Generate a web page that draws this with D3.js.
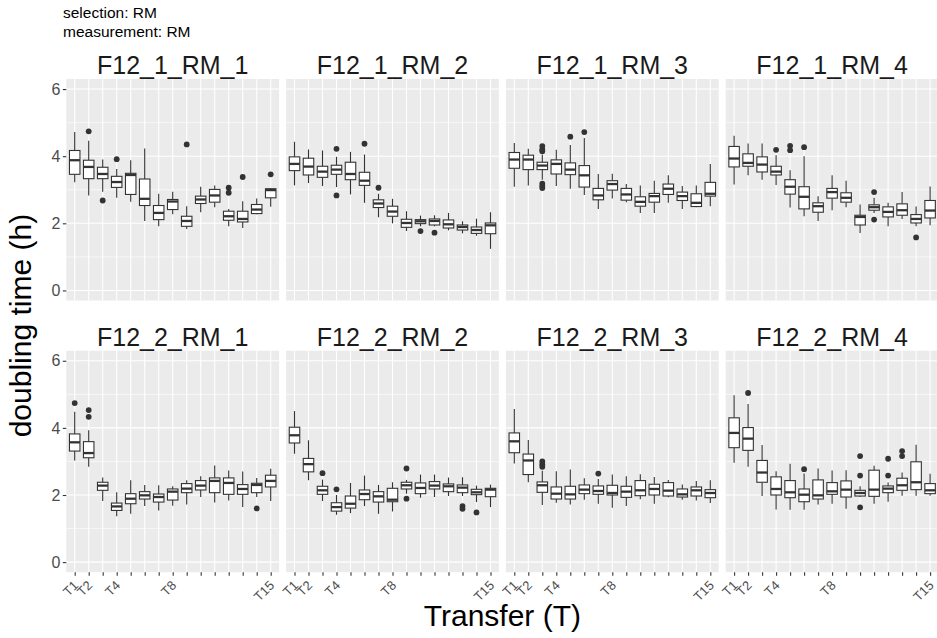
<!DOCTYPE html>
<html>
<head>
<meta charset="utf-8">
<script src="https://cdn.jsdelivr.net/npm/d3@7"></script>
<style>
  html, body { margin: 0; padding: 0; background: #ffffff; }
  svg { display: block; }
  text { font-family: "Liberation Sans", Arial, Helvetica, sans-serif; }
</style>
</head>
<body>
<svg id="chart" width="937" height="638"></svg>
<script>
// Transfers along the x axis and the labels shown under the ticks
const transfers = ["T1","T2","T3","T4","T5","T6","T7","T8","T9","T10","T11","T12","T13","T14","T15"];
const transferLabels = ["T1","T2","","T4","","","","T8","","","","","","","T15"];
const yTicks = [0, 2, 4, 6];
const panelNames = ["F12_1_RM_1","F12_1_RM_2","F12_1_RM_3","F12_1_RM_4",
                    "F12_2_RM_1","F12_2_RM_2","F12_2_RM_3","F12_2_RM_4"];

// Box statistics per transfer: [lower whisker, Q1, median, Q3, upper whisker]
const f12_1_rm_1 = [
  [3.22,3.46,3.88,4.17,4.72],[2.83,3.33,3.68,3.88,4.46],[2.94,3.33,3.47,3.67,3.90],
  [2.76,3.07,3.23,3.40,3.62],[2.64,2.86,3.44,3.49,3.88],[2.07,2.53,2.73,3.32,4.23],
  [1.91,2.11,2.31,2.53,2.88],[2.27,2.41,2.65,2.71,2.94],[1.83,1.91,2.07,2.21,2.51],
  [2.33,2.59,2.71,2.81,3.09],[2.48,2.63,2.83,3.01,3.13],[1.91,2.09,2.21,2.36,2.43],
  [1.86,2.04,2.13,2.36,2.66],[2.27,2.29,2.41,2.56,2.74],[2.49,2.76,2.99,3.03,3.05]
];
const f12_1_rm_2 = [
  [3.13,3.57,3.77,3.98,4.43],[3.20,3.44,3.69,3.94,4.20],[3.11,3.37,3.54,3.70,4.17],
  [3.08,3.46,3.60,3.73,3.98],[2.86,3.30,3.47,3.82,4.13],[2.61,3.13,3.27,3.52,4.05],
  [2.18,2.47,2.59,2.70,2.88],[2.00,2.21,2.35,2.51,2.73],[1.77,1.88,2.01,2.12,2.36],
  [1.91,1.99,2.06,2.11,2.23],[1.91,1.95,2.07,2.13,2.24],[1.79,1.86,1.97,2.10,2.31],
  [1.70,1.80,1.89,1.95,2.06],[1.63,1.70,1.80,1.89,2.14],[1.24,1.69,1.94,2.01,2.33]
];
const f12_1_rm_3 = [
  [3.09,3.64,3.90,4.11,4.39],[3.13,3.60,3.90,4.03,4.22],[3.30,3.60,3.72,3.82,4.05],
  [3.11,3.47,3.77,3.89,4.19],[3.03,3.45,3.60,3.80,4.33],[2.84,3.08,3.43,3.72,4.54],
  [2.43,2.70,2.83,3.04,3.47],[2.74,2.99,3.17,3.27,3.48],[2.63,2.69,2.86,3.04,3.17],
  [2.31,2.51,2.64,2.79,3.13],[2.31,2.63,2.81,2.89,3.27],[2.61,2.86,3.03,3.17,3.43],
  [2.43,2.68,2.81,2.93,3.11],[2.48,2.50,2.61,2.88,3.13],[2.51,2.81,2.88,3.22,3.77]
];
const f12_1_rm_4 = [
  [3.16,3.68,3.93,4.29,4.61],[3.43,3.70,3.80,4.07,4.38],[3.30,3.53,3.75,3.98,4.38],
  [3.14,3.44,3.54,3.70,4.03],[2.47,2.87,3.09,3.30,3.58],[2.21,2.43,2.79,3.09,4.00],
  [2.07,2.33,2.51,2.61,2.81],[2.39,2.75,2.93,3.04,3.43],[2.48,2.63,2.76,2.91,3.27],
  [1.71,1.95,2.19,2.24,2.56],[2.31,2.39,2.48,2.55,2.76],[1.91,2.19,2.34,2.49,2.61],
  [2.13,2.24,2.39,2.58,2.93],[1.91,2.01,2.13,2.26,2.50],[1.94,2.16,2.38,2.68,3.10]
];
const f12_2_rm_1 = [
  [3.03,3.31,3.57,3.82,4.48],[2.84,3.11,3.25,3.59,3.93],[1.82,2.14,2.28,2.38,2.52],
  [1.37,1.54,1.66,1.76,2.08],[1.44,1.74,1.89,2.04,2.44],[1.67,1.88,1.99,2.10,2.30],
  [1.54,1.79,1.94,2.03,2.29],[1.68,1.85,2.10,2.18,2.26],[1.72,2.07,2.19,2.34,2.44],
  [1.94,2.15,2.28,2.43,2.56],[1.78,2.07,2.42,2.51,2.88],[1.84,2.02,2.36,2.51,2.73],
  [1.64,2.02,2.18,2.31,2.70],[1.94,2.07,2.30,2.35,2.51],[1.82,2.24,2.42,2.59,2.78]
];
const f12_2_rm_2 = [
  [3.23,3.55,3.78,4.02,4.50],[2.44,2.69,2.92,3.09,3.63],[1.82,2.02,2.14,2.26,2.46],
  [1.41,1.52,1.64,1.77,2.00],[1.46,1.61,1.74,1.97,2.36],[1.67,1.86,2.03,2.15,2.58],
  [1.44,1.79,1.96,2.10,2.30],[1.51,1.80,1.86,2.20,2.38],[2.04,2.18,2.29,2.38,2.45],
  [1.92,2.04,2.21,2.36,2.61],[1.94,2.18,2.28,2.40,2.61],[1.97,2.10,2.26,2.33,2.52],
  [1.97,2.07,2.22,2.30,2.53],[1.79,2.01,2.08,2.17,2.28],[1.64,1.95,2.16,2.20,2.31]
];
const f12_2_rm_3 = [
  [2.94,3.26,3.60,3.85,4.56],[2.38,2.61,3.03,3.22,3.64],[1.70,2.08,2.29,2.39,2.72],
  [1.77,1.88,2.04,2.24,2.71],[1.72,1.88,2.02,2.26,2.76],[1.86,2.04,2.16,2.30,2.50],
  [1.74,2.02,2.12,2.27,2.48],[1.62,2.00,2.06,2.29,2.61],[1.67,1.93,2.10,2.26,2.56],
  [1.87,1.98,2.14,2.43,2.62],[1.74,2.00,2.18,2.32,2.54],[1.93,1.97,2.13,2.37,2.45],
  [1.86,1.94,2.02,2.18,2.31],[1.84,1.97,2.14,2.24,2.42],[1.76,1.92,2.06,2.16,2.44]
];
const f12_2_rm_4 = [
  [2.96,3.41,3.85,4.30,4.97],[2.84,3.33,3.68,4.01,4.71],[1.97,2.38,2.67,3.03,3.49],
  [1.57,2.00,2.18,2.54,2.71],[1.56,1.92,2.08,2.43,2.93],[1.56,1.80,2.01,2.18,2.64],
  [1.72,1.88,1.99,2.45,2.79],[1.74,2.02,2.11,2.37,2.73],[1.59,1.94,2.16,2.42,2.74],
  [1.94,1.97,2.06,2.14,2.26],[1.74,1.96,2.16,2.74,2.87],[1.80,2.07,2.19,2.27,2.37],
  [1.98,2.14,2.29,2.50,2.67],[1.98,2.16,2.38,2.99,3.50],[1.98,2.04,2.14,2.34,2.63]
];

// Outlying points per panel: [transfer index (0-based), value]
const out_1_1 = [[1,4.74],[2,2.68],[3,3.91],[8,4.35],[11,3.06],[11,2.91],[12,3.38],[14,3.46]];
const out_1_2 = [[3,4.22],[3,2.83],[5,4.37],[6,3.06],[9,1.77],[10,1.72]];
const out_1_3 = [[2,4.30],[2,4.20],[2,4.15],[2,3.18],[2,3.11],[2,3.05],[4,4.58],[5,4.72]];
const out_1_4 = [[3,4.19],[4,4.31],[4,4.18],[5,4.27],[10,2.93],[10,2.11],[13,1.58]];
const out_2_1 = [[0,4.74],[1,4.53],[1,4.33],[13,1.60]];
const out_2_2 = [[2,2.65],[3,2.17],[8,2.79],[8,1.89],[12,1.67],[12,1.59],[13,1.48]];
const out_2_3 = [[2,3.00],[2,2.91],[2,2.84],[6,2.64]];
const out_2_4 = [[1,5.04],[5,2.77],[9,3.16],[9,2.58],[9,1.63],[11,3.08],[11,2.58],[12,3.31],[12,3.16]];

const panelStats = [f12_1_rm_1, f12_1_rm_2, f12_1_rm_3, f12_1_rm_4,
                    f12_2_rm_1, f12_2_rm_2, f12_2_rm_3, f12_2_rm_4];
const panelOutliers = [out_1_1, out_1_2, out_1_3, out_1_4,
                       out_2_1, out_2_2, out_2_3, out_2_4];

// Layout of the 2 x 4 facet grid
const panelLeft = 66.3, panelW = 212.8, panelGapX = 7;
const panelTops = [79, 350.7], panelH = 221.5;
const ink = "#333333", tickText = "#4D4D4D";

const svg = d3.select("#chart");

const x = d3.scalePoint().domain(transfers).range([0, panelW]).padding(0.6);
const y = d3.scaleLinear().domain([-0.3, 6.3]).range([panelH, 0]);
const boxW = x.step() * 0.75;

// Caption lines at top-left
svg.append("text").attr("x", 63).attr("y", 18).attr("font-size", 15.5).attr("fill", "#000")
  .text("selection: RM");
svg.append("text").attr("x", 63).attr("y", 37).attr("font-size", 15.5).attr("fill", "#000")
  .text("measurement: RM");

panelNames.forEach((name, i) => {
  const row = Math.floor(i / 4), col = i % 4;
  const px = panelLeft + col * (panelW + panelGapX);
  const py = panelTops[row];
  const g = svg.append("g").attr("transform", `translate(${px},${py})`);

  // panel background and grid
  g.append("rect").attr("width", panelW).attr("height", panelH).attr("fill", "#EBEBEB");
  [1, 3, 5].forEach(v => {
    g.append("line").attr("x1", 0).attr("x2", panelW).attr("y1", y(v)).attr("y2", y(v))
      .attr("stroke", "#fff").attr("stroke-width", 0.6);
  });
  yTicks.forEach(v => {
    g.append("line").attr("x1", 0).attr("x2", panelW).attr("y1", y(v)).attr("y2", y(v))
      .attr("stroke", "#fff").attr("stroke-width", 1.1);
  });
  transfers.forEach(t => {
    g.append("line").attr("x1", x(t)).attr("x2", x(t)).attr("y1", 0).attr("y2", panelH)
      .attr("stroke", "#fff").attr("stroke-width", 1.1);
  });

  // strip title
  svg.append("text").attr("x", px + panelW / 2).attr("y", py - 5)
    .attr("text-anchor", "middle").attr("font-size", 25).attr("fill", "#1A1A1A")
    .text(name);

  // boxes
  const stats = panelStats[i];
  const boxes = g.selectAll("g.box").data(stats).join("g").attr("class", "box")
    .attr("transform", (d, j) => `translate(${x(transfers[j])},0)`);
  boxes.append("line").attr("y1", d => y(d[4])).attr("y2", d => y(d[3]))
    .attr("stroke", ink).attr("stroke-width", 1.1);
  boxes.append("line").attr("y1", d => y(d[1])).attr("y2", d => y(d[0]))
    .attr("stroke", ink).attr("stroke-width", 1.1);
  boxes.append("rect").attr("x", -boxW / 2).attr("width", boxW)
    .attr("y", d => y(d[3])).attr("height", d => y(d[1]) - y(d[3]))
    .attr("fill", "#fff").attr("stroke", ink).attr("stroke-width", 1.1);
  boxes.append("line").attr("x1", -boxW / 2).attr("x2", boxW / 2)
    .attr("y1", d => y(d[2])).attr("y2", d => y(d[2]))
    .attr("stroke", ink).attr("stroke-width", 2.3);

  // outliers
  g.selectAll("circle.out").data(panelOutliers[i]).join("circle").attr("class", "out")
    .attr("cx", d => x(transfers[d[0]])).attr("cy", d => y(d[1])).attr("r", 2.9)
    .attr("fill", ink);

  // y axis on the left column
  if (col === 0) {
    const ya = g.append("g").call(d3.axisLeft(y).tickValues(yTicks)
      .tickFormat(d3.format("d")).tickSize(3.5).tickPadding(2.5));
    ya.select(".domain").remove();
    ya.selectAll(".tick line").attr("stroke", ink).attr("stroke-width", 1.1);
    ya.selectAll(".tick text").attr("fill", tickText).attr("font-size", 16)
      .attr("font-family", "Liberation Sans, Arial, sans-serif");
  }
  // x axis on the bottom row
  if (row === 1) {
    const xa = g.append("g").attr("transform", `translate(0,${panelH})`)
      .call(d3.axisBottom(x).tickSize(3.5).tickFormat((d, j) => transferLabels[j]));
    xa.select(".domain").remove();
    xa.selectAll(".tick line").attr("stroke", ink).attr("stroke-width", 1.1);
    xa.selectAll(".tick text").attr("fill", tickText).attr("font-size", 13)
      .attr("font-family", "Liberation Sans, Arial, sans-serif")
      .attr("text-anchor", "end").attr("dy", null).attr("y", 0)
      .attr("transform", "translate(4,14) rotate(-45)");
  }
});

// axis titles
const gridRight = panelLeft + 4 * panelW + 3 * panelGapX;
svg.append("text").attr("x", (panelLeft + gridRight) / 2).attr("y", 626)
  .attr("text-anchor", "middle").attr("font-size", 30).attr("fill", "#000")
  .text("Transfer (T)");
svg.append("text")
  .attr("transform", `translate(31,${(panelTops[0] + panelTops[1] + panelH) / 2}) rotate(-90)`)
  .attr("text-anchor", "middle").attr("font-size", 30).attr("fill", "#000")
  .text("doubling time (h)");
</script>
</body>
</html>
